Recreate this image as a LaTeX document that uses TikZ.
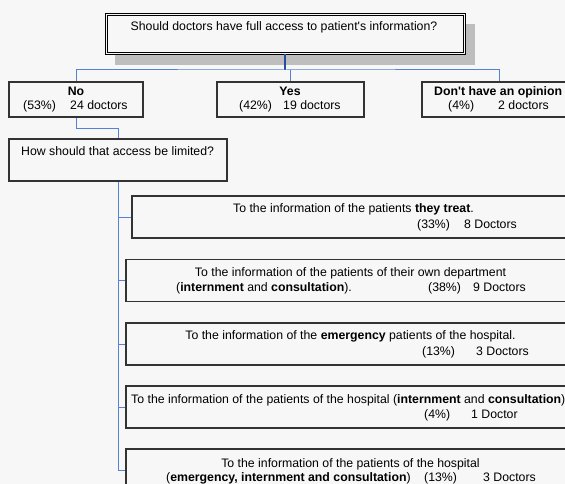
\documentclass[tikz,border=0pt]{standalone}
\usepackage{fontspec}
\setmainfont{Liberation Sans}
\usetikzlibrary{shadows}
\definecolor{bg}{RGB}{247,247,247}
\definecolor{boxline}{RGB}{51,51,51}
\definecolor{link}{RGB}{84,130,212}
\definecolor{linkdark}{RGB}{38,78,160}
\definecolor{shade}{RGB}{190,190,190}
\tikzset{
  answer/.style={draw=boxline, line width=1.1pt, fill=bg, inner sep=0pt, minimum height=42pt},
  txt/.style={inner sep=0pt, font=\fontsize{12.3}{14}\selectfont},
  link/.style={draw=link, line width=1pt},
}
\begin{document}
\begin{tikzpicture}[x=1pt, y=-1pt]
  \useasboundingbox (0,0) rectangle (565,484);
  \clip (0,0) rectangle (565,484);
  \fill[bg] (0,0) rectangle (565,484);
  % question
  \node[draw=black, line width=0.8pt, fill=bg,
        minimum width=360pt, minimum height=41pt, inner sep=0pt,
        drop shadow={shadow xshift=10pt, shadow yshift=-11pt, fill=shade, opacity=1}]
        (q) at (285,33.5) {};
  \draw[black, line width=0.8pt] ([shift={(2.4,2.4)}]q.north west) rectangle ([shift={(-2.4,-2.4)}]q.south east);
  \node[txt, anchor=base] (qt) at (284,31) {Should doctors have full access to patient\textquotesingle s information?};
  % first answers
  \node[answer, minimum width=134pt, minimum height=35pt] (no) at (76,99.5) {};
  \node[answer, minimum width=147pt, minimum height=35pt] (yes) at (290.5,99.5) {};
  \node[answer, minimum width=154pt, minimum height=35pt] (dk) at (499,99.5) {};
  \node[txt, anchor=base] (no-t) at (76,96) {\textbf{No}};
  \node[txt, anchor=base west] (no-p) at (23,110) {(53\%)};
  \node[txt, anchor=base west] (no-d) at (70,110) {24 doctors};
  \node[txt, anchor=base] (yes-t) at (290,96) {\textbf{Yes}};
  \node[txt, anchor=base west] (yes-p) at (239,110) {(42\%)};
  \node[txt, anchor=base west] (yes-d) at (283,110) {19 doctors};
  \node[txt, anchor=base west] (dk-t) at (434,96) {\textbf{Don\textquotesingle t have an opinion}};
  \node[txt, anchor=base west] (dk-p) at (448,110) {(4\%)};
  \node[txt, anchor=base west] (dk-d) at (498,110) {2 doctors};
  % follow-up
  \node[answer, minimum width=218pt] (how) at (118,160) {};
  \node[txt, anchor=base west] (how-t) at (21,156) {How should that access be limited?};
  \node[answer, minimum width=442pt] (a1) at (353,217) {};
  \node[answer, minimum width=448pt] (a2) at (350,280.5) {};
  \node[answer, minimum width=448pt] (a3) at (350,344) {};
  \node[answer, minimum width=448pt] (a4) at (350,407) {};
  \node[answer, minimum width=448pt] (a5) at (350,470) {};
  \node[txt, anchor=base] (a1-t) at (353.5,212) {To the information of the patients \textbf{they treat}.};
  \node[txt, anchor=base west] (a1-p) at (417,228) {(33\%)};
  \node[txt, anchor=base west] (a1-d) at (464,228) {8 Doctors};
  \node[txt, anchor=base] (a2-t) at (350.5,276) {To the information of the patients of their own department};
  \node[txt, anchor=base west] (a2-s) at (176,291) {(\textbf{internment} and \textbf{consultation}).};
  \node[txt, anchor=base west] (a2-p) at (428,291) {(38\%)};
  \node[txt, anchor=base west] (a2-d) at (473,291) {9 Doctors};
  \node[txt, anchor=base] (a3-t) at (350.5,339) {To the information of the \textbf{emergency} patients of the hospital.};
  \node[txt, anchor=base west] (a3-p) at (422,355) {(13\%)};
  \node[txt, anchor=base west] (a3-d) at (476,355) {3 Doctors};
  \node[txt, anchor=base west] (a4-t) at (131,403) {To the information of the patients of the hospital (\textbf{internment} and \textbf{consultation})};
  \node[txt, anchor=base west] (a4-p) at (424,418) {(4\%)};
  \node[txt, anchor=base west] (a4-d) at (471,418) {1 Doctor};
  \node[txt, anchor=base] (a5-t) at (350.5,467) {To the information of the patients of the hospital};
  \node[txt, anchor=base west] (a5-s) at (166,481) {(\textbf{emergency, internment and consultation})};
  \node[txt, anchor=base west] (a5-p) at (424,481) {(13\%)};
  \node[txt, anchor=base west] (a5-d) at (483,481) {3 Doctors};
  % connectors
  \draw[linkdark, line width=1.3pt] (q.south) -- (285,70) coordinate (bus);
  \draw[link] (no.north) |- (bus) -| (dk.north);
  \draw[link] (bus -| yes.north) -- (yes.north);
  \draw[link] (no.south) -- ++(0,11) -| (how.north);
  \draw[link] (how.south) |- (a5.west);
  \foreach \b in {a1,a2,a3,a4}
    \draw[link] (how.south |- \b.west) -- (\b.west);
\end{tikzpicture}
\end{document}
